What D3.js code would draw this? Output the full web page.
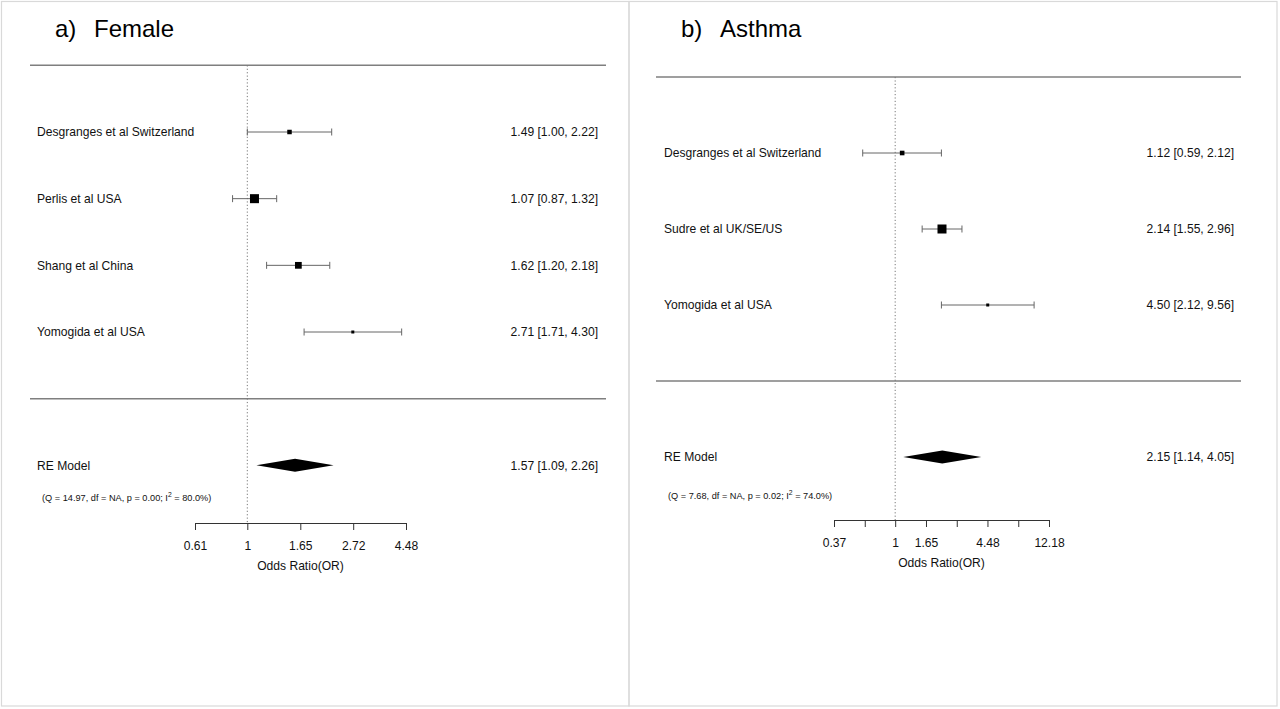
<!DOCTYPE html>
<html>
<head>
<meta charset="utf-8">
<script src="https://cdn.jsdelivr.net/npm/d3@7"></script>
<style>
  html, body { margin: 0; padding: 0; background: #fff; }
  svg { display: block; font-family: "Liberation Sans", Arial, sans-serif; }
</style>
</head>
<body>
<svg id="chart" width="1280" height="709"></svg>
<script>
// ---------- DATA ----------
const femaleStudies = ["Desgranges et al Switzerland", "Perlis et al USA", "Shang et al China", "Yomogida et al USA"];
const femaleOR = [1.49, 1.07, 1.62, 2.71];
const femaleLower = [1.00, 0.87, 1.20, 1.71];
const femaleUpper = [2.22, 1.32, 2.18, 4.30];
const femaleWeights = [23, 29, 26, 21];
const femaleRE = [1.57, 1.09, 2.26];
const femaleHet = ["(Q = 14.97, df = NA, p = 0.00; I", "2", " = 80.0%)"];
const femaleTicks = [0.61, 1, 1.65, 2.72, 4.48];
const femaleTickLabels = ["0.61", "1", "1.65", "2.72", "4.48"];

const asthmaStudies = ["Desgranges et al Switzerland", "Sudre et al UK/SE/US", "Yomogida et al USA"];
const asthmaOR = [1.12, 2.14, 4.50];
const asthmaLower = [0.59, 1.55, 2.12];
const asthmaUpper = [2.12, 2.96, 9.56];
const asthmaWeights = [31, 42, 27];
const asthmaRE = [2.15, 1.14, 4.05];
const asthmaHet = ["(Q = 7.68, df = NA, p = 0.02; I", "2", " = 74.0%)"];
const asthmaTicks = [0.37, 0.61, 1, 1.65, 2.72, 4.48, 7.39, 12.18];
const asthmaTickLabels = ["0.37", "", "1", "1.65", "", "4.48", "", "12.18"];

const axisTitle = "Odds Ratio(OR)";

// ---------- DRAW ----------
const svg = d3.select("#chart");
const fmt = d3.format(".2f");

function panel(cfg) {
  const g = svg.append("g");
  // panel frame
  g.append("rect")
    .attr("x", cfg.frame[0]).attr("y", cfg.frame[1])
    .attr("width", cfg.frame[2]).attr("height", cfg.frame[3])
    .attr("fill", "none").attr("stroke", "#d9d9d9").attr("stroke-width", 1.2);

  // title
  g.append("text").attr("x", cfg.titleX).attr("y", 37)
    .attr("font-size", 24).attr("fill", "#000").text(cfg.letter);
  g.append("text").attr("x", cfg.titleX + 39).attr("y", 37)
    .attr("font-size", 24).attr("fill", "#000").text(cfg.title);

  const k = cfg.studies.length;
  const x = d3.scaleLog().domain([cfg.ticks[0], cfg.ticks[cfg.ticks.length - 1]]).range(cfg.axisRange);
  const y = d3.scaleLinear().domain([k, 1]).range(cfg.rowRange);

  // horizontal rules
  [k + 1, 0].forEach(r => {
    g.append("line")
      .attr("x1", cfg.ruleX[0]).attr("x2", cfg.ruleX[1])
      .attr("y1", y(r)).attr("y2", y(r))
      .attr("stroke", "#7f7f7f").attr("stroke-width", 1.5);
  });

  // reference line at OR = 1
  g.append("line")
    .attr("x1", x(1)).attr("x2", x(1))
    .attr("y1", y(k + 1)).attr("y2", cfg.axisY)
    .attr("stroke", "#777").attr("stroke-width", 1)
    .attr("stroke-dasharray", "1.2,2.2");

  const size = d3.scaleLinear().domain(d3.extent(cfg.weights)).range([3, 9]);
  const rows = cfg.studies.map((s, i) => ({
    name: s, or: cfg.or[i], lo: cfg.lower[i], hi: cfg.upper[i], w: cfg.weights[i], row: k - i
  }));

  const rg = g.selectAll("g.row").data(rows).enter().append("g").attr("class", "row");
  rg.append("text")
    .attr("x", cfg.labelX).attr("y", d => y(d.row)).attr("dy", "0.35em")
    .attr("font-size", 12.1).attr("fill", "#111").text(d => d.name);
  rg.append("line")
    .attr("x1", d => x(d.lo)).attr("x2", d => x(d.hi))
    .attr("y1", d => y(d.row)).attr("y2", d => y(d.row))
    .attr("stroke", "#666").attr("stroke-width", 1);
  ["lo", "hi"].forEach(key => {
    rg.append("line")
      .attr("x1", d => x(d[key])).attr("x2", d => x(d[key]))
      .attr("y1", d => y(d.row) - 3.5).attr("y2", d => y(d.row) + 3.5)
      .attr("stroke", "#666").attr("stroke-width", 1);
  });
  rg.append("rect")
    .attr("x", d => x(d.or) - size(d.w) / 2)
    .attr("y", d => y(d.row) - size(d.w) / 2)
    .attr("width", d => size(d.w)).attr("height", d => size(d.w))
    .attr("fill", "#000");
  rg.append("text")
    .attr("x", cfg.valueX).attr("y", d => y(d.row)).attr("dy", "0.35em")
    .attr("text-anchor", "end").attr("font-size", 12.1).attr("fill", "#111")
    .text(d => `${fmt(d.or)} [${fmt(d.lo)}, ${fmt(d.hi)}]`);

  // RE model
  const yr = y(-1);
  g.append("text").attr("x", cfg.labelX).attr("y", yr).attr("dy", "0.35em")
    .attr("font-size", 12.1).attr("fill", "#111").text("RE Model");
  const [est, lo, hi] = cfg.re;
  g.append("polygon")
    .attr("points", [[x(lo), yr], [x(est), yr - 6.5], [x(hi), yr], [x(est), yr + 6.5]].map(p => p.join(",")).join(" "))
    .attr("fill", "#000");
  g.append("text").attr("x", cfg.valueX).attr("y", yr).attr("dy", "0.35em")
    .attr("text-anchor", "end").attr("font-size", 12.1).attr("fill", "#111")
    .text(`${fmt(est)} [${fmt(lo)}, ${fmt(hi)}]`);

  const het = g.append("text").attr("x", cfg.hetX).attr("y", cfg.hetY)
    .attr("font-size", 9.2).attr("fill", "#111");
  het.append("tspan").text(cfg.het[0]);
  het.append("tspan").attr("dy", -3.6).attr("font-size", 6.8).text(cfg.het[1]);
  het.append("tspan").attr("dy", 3.6).text(cfg.het[2]);

  // axis
  const axis = d3.axisBottom(x)
    .tickValues(cfg.ticks)
    .tickFormat((d, i) => cfg.tickLabels[i])
    .tickSize(7).tickSizeOuter(0).tickPadding(11);
  const ag = g.append("g").attr("transform", `translate(0,${cfg.axisY})`)
    .style("color", "#333").call(axis);
  ag.selectAll("text").attr("font-size", 12.1).attr("fill", "#111")
    .attr("font-family", "Liberation Sans, Arial, sans-serif");
  ag.selectAll("line, path").attr("stroke-width", 1);

  g.append("text")
    .attr("x", (cfg.axisRange[0] + cfg.axisRange[1]) / 2).attr("y", cfg.axisY + 47)
    .attr("text-anchor", "middle").attr("font-size", 12.1).attr("fill", "#111")
    .text(axisTitle);
}

panel({
  frame: [1.5, 1.5, 627.5, 704.5],
  letter: "a)", title: "Female", titleX: 55,
  studies: femaleStudies, or: femaleOR, lower: femaleLower, upper: femaleUpper, weights: femaleWeights,
  re: femaleRE, het: femaleHet, ticks: femaleTicks, tickLabels: femaleTickLabels,
  axisRange: [195, 406], rowRange: [132, 332], ruleX: [30, 606],
  labelX: 37, valueX: 598, hetX: 42, hetY: 501, axisY: 523
});

panel({
  frame: [629, 1.5, 648, 704.5],
  letter: "b)", title: "Asthma", titleX: 681,
  studies: asthmaStudies, or: asthmaOR, lower: asthmaLower, upper: asthmaUpper, weights: asthmaWeights,
  re: asthmaRE, het: asthmaHet, ticks: asthmaTicks, tickLabels: asthmaTickLabels,
  axisRange: [834, 1049], rowRange: [153, 305], ruleX: [656, 1241],
  labelX: 664, valueX: 1234, hetX: 668, hetY: 499, axisY: 520
});
</script>
</body>
</html>
